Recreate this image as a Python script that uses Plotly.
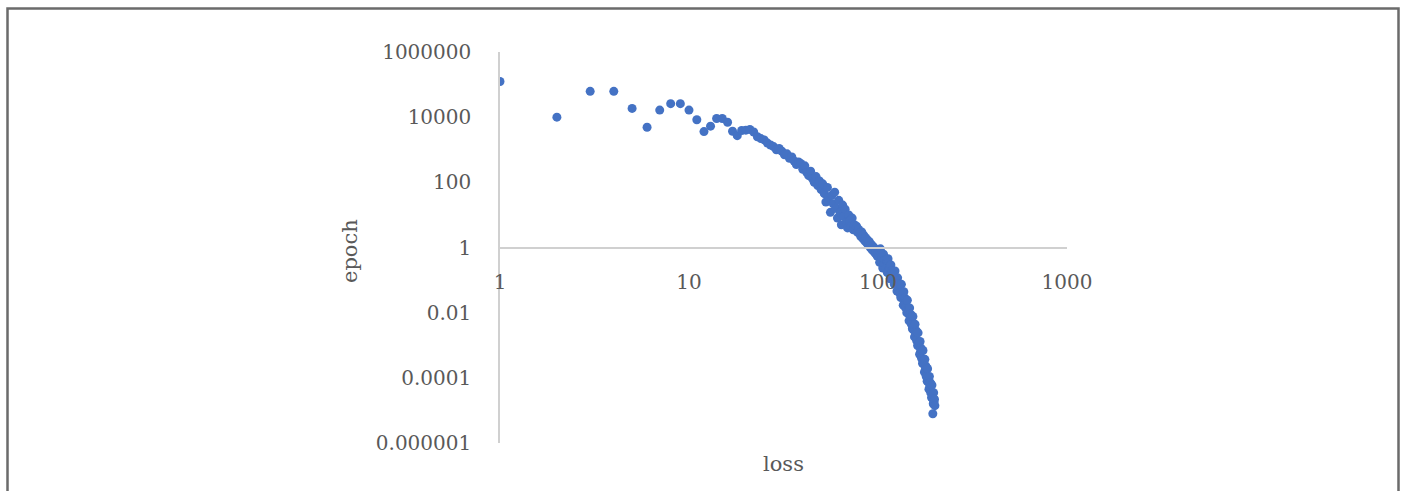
import plotly.graph_objects as go

# ---- data ----
loss = [
    1, 2, 3, 4, 5, 6, 7, 8, 9, 10,
    11, 12, 13, 14, 15, 16, 17, 18, 19, 20,
    21, 22, 23, 24, 25, 26, 27, 28, 29, 30,
    31, 32, 33, 34, 35, 36, 37, 38, 39, 40,
    41, 42, 43, 44, 45, 46, 47, 48, 49, 50,
    51, 52, 53, 54, 55, 56, 57, 58, 59, 60,
    61, 62, 63, 64, 65, 66, 67, 68, 69, 70,
    71, 72, 73, 74, 75, 76, 77, 78, 79, 80,
    81, 82, 83, 84, 85, 86, 87, 88, 89, 90,
    91, 92, 93, 94, 95, 96, 97, 98, 99, 100,
    101, 102, 103, 104, 105, 106, 107, 108, 109, 110,
    111, 112, 113, 114, 115, 116, 117, 118, 119, 120,
    121, 122, 123, 124, 125, 126, 127, 128, 129, 130,
    131, 132, 133, 134, 135, 136, 137, 138, 139, 140,
    141, 142, 143, 144, 145, 146, 147, 148, 149, 150,
    151, 152, 153, 154, 155, 156, 157, 158, 159, 160,
    161, 162, 163, 164, 165, 166, 167, 168, 169, 170,
    171, 172, 173, 174, 175, 176, 177, 178, 179, 180,
    181, 182, 183, 184, 185, 186, 187, 188, 189, 190,
    191, 192, 193, 194, 195, 196, 197, 198, 199, 200,
]

epoch = [
    1.24e5, 1.0e4, 6.2e4, 6.2e4, 1.86e4, 4.9e3, 1.65e4, 2.6e4, 2.6e4, 1.65e4,
    8.3e3, 3.6e3, 5.3e3, 9.1e3, 9.1e3, 7.0e3, 3.7e3, 2.7e3, 3.9e3, 4.0e3,
    4.2e3, 3.5e3, 2.5e3, 2.2e3, 2.0e3, 1.6e3, 1.4e3, 1.25e3, 1.0e3, 1.1e3,
    9.0e2, 7.0e2, 7.5e2, 5.5e2, 6.0e2, 4.5e2, 3.5e2, 4.2e2, 3.8e2, 2.5e2,
    3.2e2, 2.0e2, 1.6e2, 2.2e2, 1.3e2, 1.0e2, 1.5e2, 8.0e1, 1.1e2, 6.0e1,
    9.0e1, 4.5e1, 2.5e1, 7.0e1, 3.5e1, 1.2e1, 4.0e1, 2.2e1, 5.0e1, 1.6e1,
    8.0, 28.0, 12.0, 5.0, 20.0, 9.0, 15.0, 6.0, 4.0, 10.0,
    6.5, 4.5, 8.0, 3.5, 5.0, 3.6, 4.5, 2.9, 3.6, 2.8,
    2.2, 3.0, 1.9, 2.4, 1.6, 2.0, 1.4, 1.7, 1.2, 1.5,
    1.0, 1.25, 0.85, 1.1, 0.75, 0.95, 0.65, 0.8, 0.55, 0.7,
    0.83, 0.35, 0.91, 0.38, 0.50, 0.234, 0.62, 0.32, 0.43, 0.22,
    0.42, 0.17, 0.45, 0.18, 0.24, 0.11, 0.29, 0.148, 0.195, 0.10,
    0.18, 0.074, 0.19, 0.078, 0.10, 0.046, 0.117, 0.06, 0.078, 0.04,
    0.072, 0.029, 0.074, 0.03, 0.038, 0.017, 0.044, 0.022, 0.028, 0.014,
    0.025, 0.010, 0.024, 0.0095, 0.0126, 0.0056, 0.014, 0.0071, 0.0089, 0.0045,
    0.0079, 0.0032, 0.0076, 0.0030, 0.0040, 0.0018, 0.0044, 0.0022, 0.0028, 0.0014,
    0.0025, 0.00098, 0.0024, 0.00096, 0.0012, 0.00053, 0.0013, 0.00065, 0.00081, 0.0004,
    0.00071, 0.00028, 0.00069, 0.00027, 0.00034, 0.00015, 0.00037, 0.00018, 0.00023, 0.00011,
    0.0002, 7.9e-5, 1.9e-4, 7.6e-5, 1.0e-4, 4.5e-5, 1.1e-4, 5.6e-5, 7.1e-5, 3.5e-5,
    6.3e-5, 2.5e-5, 6.0e-5, 2.4e-5, 7.9e-6, 1.6e-5, 3.5e-5, 1.8e-5, 2.2e-5, 1.4e-5,
]

x_tickvals = [1, 10, 100, 1000]
x_ticktext = ["1", "10", "100", "1000"]
y_tickvals = [1e-6, 1e-4, 1e-2, 1, 100, 1e4, 1e6]
y_ticktext = ["0.000001", "0.0001", "0.01", "1", "100", "10000", "1000000"]

x_title = "loss"
y_title = "epoch"

# ---- layout helpers (pixel geometry of the picture) ----
W, H = 1405, 491
PL, PR, PT, PB = 500, 1067, 52, 443   # plot area in px
AXIS_Y_PX = 247.5                      # where x axis crosses (y = 1)

def px_x(p):
    return p / W

def px_y(p):
    return 1 - p / H

FONT = "DejaVu Serif"
TXT = "#595959"
AX = "#d0d0d0"

fig = go.Figure()
fig.add_trace(go.Scatter(
    x=loss, y=epoch, mode="markers",
    marker=dict(color="#4472C4", size=9, line=dict(width=0)),
    showlegend=False, hoverinfo="x+y",
))

fig.update_layout(
    template="none",
    width=W, height=H, autosize=False,
    margin=dict(l=0, r=0, t=0, b=0, pad=0, autoexpand=False),
    paper_bgcolor="white", plot_bgcolor="white",
    font=dict(family=FONT, size=20, color=TXT),
    xaxis=dict(
        type="log", range=[0, 3], automargin=False,
        domain=[px_x(PL), px_x(PR)],
        anchor="free", position=px_y(AXIS_Y_PX),
        tickvals=x_tickvals, ticktext=x_ticktext,
        showgrid=False, zeroline=False,
        showline=True, linecolor=AX, linewidth=1.5,
        ticks="", ticklabelstandoff=17,
        tickfont=dict(family=FONT, size=20, color=TXT),
    ),
    yaxis=dict(
        type="log", range=[-6, 6], automargin=False,
        domain=[px_y(PB), px_y(PT)],
        tickvals=y_tickvals, ticktext=y_ticktext,
        showgrid=False, zeroline=False,
        showline=True, linecolor=AX, linewidth=1.5,
        ticks="", ticklabelstandoff=23,
        tickfont=dict(family=FONT, size=20, color=TXT),
    ),
    annotations=[
        dict(text=y_title, xref="paper", yref="paper",
             x=px_x(350), y=px_y(251), textangle=-90, showarrow=False,
             xanchor="center", yanchor="middle",
             font=dict(family=FONT, size=21, color=TXT)),
        dict(text=x_title, xref="paper", yref="paper",
             x=px_x(783), y=px_y(464), showarrow=False,
             xanchor="center", yanchor="middle",
             font=dict(family=FONT, size=21, color=TXT)),
    ],
    shapes=[
        dict(type="path", xref="paper", yref="paper",
             path=f"M {px_x(7.5)},{px_y(H + 5)} L {px_x(7.5)},{px_y(8.5)} "
                  f"L {px_x(1398.5)},{px_y(8.5)} L {px_x(1398.5)},{px_y(H + 5)}",
             line=dict(color="#6b6b6b", width=2.5)),
    ],
)

fig.write_html(
    "out.html",
    config={"displayModeBar": False, "responsive": False},
    post_script="document.body.style.margin='0';document.body.style.overflow='hidden';",
)
